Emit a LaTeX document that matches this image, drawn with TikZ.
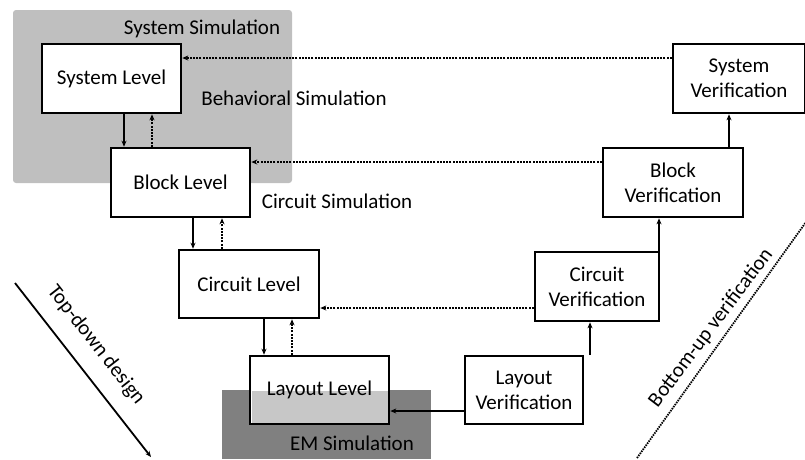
\documentclass[tikz,border=0pt]{standalone}
\usepackage{fontspec}
\setmainfont{Carlito}
\usetikzlibrary{arrows.meta}
\begin{document}
\begin{tikzpicture}[x=1pt,y=-1pt,
  every node/.style={font=\fontsize{21}{25}\selectfont, inner sep=0pt},
  lvl/.style={draw, line width=2.6pt, fill=white, align=center},
  lbl/.style={anchor=center},
  down/.style={line width=2pt, -{Stealth[length=6pt,width=5pt]}},
  up/.style={line width=2pt, dash pattern=on 2pt off 1.2pt, -{Stealth[length=6pt,width=5pt]}},
  back/.style={line width=2pt, dash pattern=on 2pt off 1.2pt, -{Stealth[length=6pt,width=5pt]}}
]
\useasboundingbox (0,0) rectangle (805,459);

% simulation regions
\fill[gray!50, rounded corners=3pt] (13,10) rectangle (292,183);
\fill[gray!95!black, fill=black!50] (222,390) rectangle (431,459);

% design levels
\node[lvl, minimum width=139pt, minimum height=69pt] (sys) at (111.5,78.5) {System Level};
\node[lvl, minimum width=139pt, minimum height=69pt] (blk) at (180.5,182.5) {Block Level};
\node[lvl, minimum width=140pt, minimum height=68pt] (cir) at (249,284) {Circuit Level};
\node[lvl, minimum width=139pt, minimum height=68pt] (lay) at (319.5,390) {};
\fill[black!22] (251.5,391) rectangle (387.5,422.5);
\node at (lay.center) {Layout Level};

% verification steps
\node[lvl, minimum width=118pt, minimum height=68pt] (layv) at (524,390) {Layout\\Verification};
\node[lvl, minimum width=124pt, minimum height=69pt] (cirv) at (597,286.5) {Circuit\\Verification};
\node[lvl, minimum width=140pt, minimum height=69pt] (blkv) at (673,182.5) {Block\\Verification};
\node[lvl, minimum width=132pt, minimum height=69pt] (sysv) at (739,78.5) {System\\Verification};

% simulation labels
\node[lbl] (lsys) at (202,29) {System Simulation};
\node[lbl] (lbeh) at (294,98) {Behavioral Simulation};
\node[lbl] (lcir) at (337,201) {Circuit Simulation};
\node[lbl] (lem) at (352,443) {EM Simulation};

% top-down refinement
\draw[down] (124,0 |- sys.south) -- (124,0 |- blk.north);
\draw[up]   (152,0 |- blk.north) -- (152,0 |- sys.south);
\draw[down] (193,0 |- blk.south) -- (193,0 |- cir.north);
\draw[up]   (222,0 |- cir.north) -- (222,0 |- blk.south);
\draw[down] (264,0 |- cir.south) -- (264,0 |- lay.north);
\draw[up]   (292,0 |- lay.north) -- (292,0 |- cir.south);

% bottom-up verification
\draw[down] (layv.west |- 0,411) -- (lay.east |- 0,411);
\draw[down] (590,0 |- layv.north) -- (590,0 |- cirv.south);
\draw[down] (659,0 |- cirv.north) -- (659,0 |- blkv.south);
\draw[down] (729,0 |- blkv.north) -- (729,0 |- sysv.south);

% feedback to design levels
\draw[back] (sysv.west |- 0,58) -- (sys.east |- 0,58);
\draw[back] (blkv.west |- 0,162) -- (blk.east |- 0,162);
\draw[back] (cirv.west |- 0,308) -- (cir.east |- 0,308);

% flow direction indicators
\coordinate (td1) at (15,283);
\coordinate (td2) at (151,457);
\draw[line width=1.8pt, -{Stealth[length=6pt,width=5pt]}] (td1) -- (td2);
\node[rotate=-52] (ltd) at (96,345) {Top-down design};

\coordinate (bu1) at (637,458);
\coordinate (bu2) at (806,222);
\draw[line width=1.8pt, dash pattern=on 1.5pt off 1pt] (bu1) -- (bu2);
\node[rotate=53] (lbu) at (711,328) {Bottom-up verification};
\end{tikzpicture}
\end{document}
